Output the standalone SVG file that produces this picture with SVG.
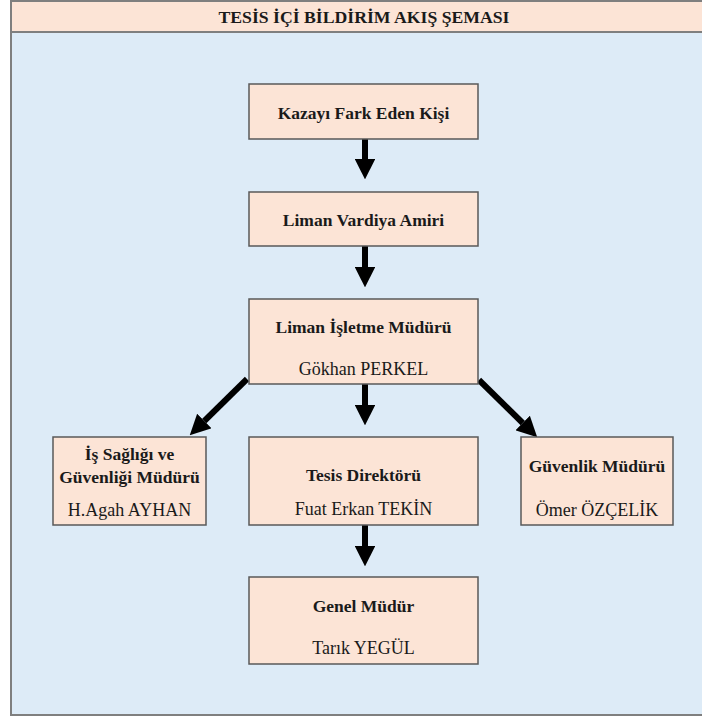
<svg xmlns="http://www.w3.org/2000/svg" width="702" height="716" viewBox="0 0 702 716">
<defs>
<style>
.box{fill:#fce4d6;stroke:#595959;stroke-width:1.5}
.b{font-family:"Liberation Serif","Times New Roman",serif;font-weight:bold;font-size:17.5px;fill:#1a1a1a;text-anchor:middle}
.n{font-family:"Liberation Serif","Times New Roman",serif;font-size:18px;fill:#1a1a1a;text-anchor:middle}
.ar{stroke:#000;stroke-width:6;fill:none}
</style>
<marker id="ah" markerWidth="3.4" markerHeight="3.4" refX="0" refY="2" orient="auto" markerUnits="strokeWidth" viewBox="0 0 4 4">
<path d="M0,0 L4,2 L0,4 Z" fill="#000"/>
</marker>
</defs>
<rect x="0" y="0" width="702" height="716" fill="#ffffff"/>
<g id="frame">
<rect x="11" y="1" width="700" height="714" fill="#ddebf7" stroke="#7f7f7f" stroke-width="2"/>
<rect x="11" y="1" width="700" height="31" fill="#fce4d6" stroke="#7f7f7f" stroke-width="2"/>
<text x="364" y="23" class="b" style="font-size:17.7px">TESİS İÇİ BİLDİRİM AKIŞ ŞEMASI</text>
</g>
<g id="connectors">
<line class="ar" x1="365" y1="139" x2="365" y2="159" marker-end="url(#ah)"/>
<line class="ar" x1="365" y1="246" x2="365" y2="267" marker-end="url(#ah)"/>
<line class="ar" x1="365" y1="384" x2="365" y2="405" marker-end="url(#ah)"/>
<line class="ar" x1="365" y1="525" x2="365" y2="546" marker-end="url(#ah)"/>
<line class="ar" x1="247" y1="379" x2="204.3" y2="421" marker-end="url(#ah)"/>
<line class="ar" x1="479" y1="380" x2="522.7" y2="423" marker-end="url(#ah)"/>
</g>
<g id="n1">
<rect class="box" x="249" y="84" width="229" height="55"/>
<text class="b" x="363.5" y="119">Kazayı Fark Eden Kişi</text>
</g>
<g id="n2">
<rect class="box" x="249" y="192" width="229" height="54"/>
<text class="b" x="363.5" y="226">Liman Vardiya Amiri</text>
</g>
<g id="n3">
<rect class="box" x="249" y="299" width="229" height="85"/>
<text class="b" x="363.5" y="333">Liman İşletme Müdürü</text>
<text class="n" x="363.5" y="375">Gökhan PERKEL</text>
</g>
<g id="n4">
<rect class="box" x="53" y="437" width="153" height="88"/>
<text class="b" x="129.5" y="460">İş Sağlığı ve</text>
<text class="b" x="129.5" y="483">Güvenliği Müdürü</text>
<text class="n" x="129.5" y="516">H.Agah AYHAN</text>
</g>
<g id="n5">
<rect class="box" x="249" y="437" width="229" height="88"/>
<text class="b" x="363.5" y="481">Tesis Direktörü</text>
<text class="n" x="363.5" y="515">Fuat Erkan TEKİN</text>
</g>
<g id="n6">
<rect class="box" x="521" y="437" width="152" height="88"/>
<text class="b" x="597" y="472">Güvenlik Müdürü</text>
<text class="n" x="597" y="516">Ömer ÖZÇELİK</text>
</g>
<g id="n7">
<rect class="box" x="249" y="577" width="229" height="87"/>
<text class="b" x="363.5" y="612">Genel Müdür</text>
<text class="n" x="363.5" y="654">Tarık YEGÜL</text>
</g>
</svg>
